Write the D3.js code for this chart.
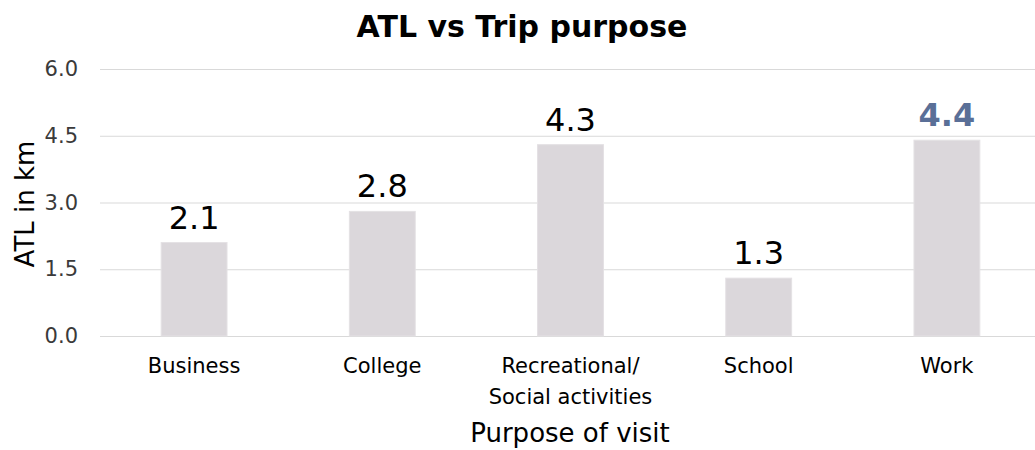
<!DOCTYPE html>
<html>
<head>
<meta charset="utf-8">
<script src="https://cdn.jsdelivr.net/npm/d3@7"></script>
<style>
  html, body { margin: 0; padding: 0; background: #fff; }
  svg text { font-family: "Century Gothic", "DejaVu Sans", sans-serif; }
</style>
</head>
<body>
<svg id="chart" width="1035" height="450"></svg>
<script>
// Average trip length by purpose of visit
const categories = ["Business", "College", "Recreational/\nSocial activities", "School", "Work"];
const atlKm = [2.1, 2.8, 4.3, 1.3, 4.4];
const yTicks = [0, 1.5, 3.0, 4.5, 6.0];
const highlighted = "Work";

const svg = d3.select("#chart");
const W = 1035;
const plot = { left: 100, right: 1041, top: 69, bottom: 336 };

const x = d3.scaleBand().domain(categories).range([plot.left, plot.right]).padding(0);
const y = d3.scaleLinear().domain([0, 6]).range([plot.bottom, plot.top]);
const barW = x.bandwidth() * 0.35;

// title
svg.append("text")
  .attr("x", 522).attr("y", 37)
  .attr("text-anchor", "middle")
  .attr("font-size", 30).attr("font-weight", "bold").attr("fill", "#000")
  .text("ATL vs Trip purpose");

// gridlines and tick labels
const yAxis = d3.axisLeft(y).tickValues(yTicks).tickFormat(d3.format(".1f"))
  .tickSize(-(W - plot.left)).tickPadding(22);
const gy = svg.append("g").attr("transform", `translate(${plot.left},0)`).call(yAxis);
gy.select(".domain").remove();
gy.selectAll(".tick line").attr("stroke", "#d9d9d9").attr("stroke-width", 1);
gy.selectAll(".tick text").attr("font-size", 21).attr("fill", "#3a3a3a");

// bars
svg.append("g").selectAll("rect")
  .data(categories)
  .join("rect")
  .attr("x", (d) => x(d) + (x.bandwidth() - barW) / 2)
  .attr("y", (d, i) => y(atlKm[i]))
  .attr("width", barW)
  .attr("height", (d, i) => y(0) - y(atlKm[i]))
  .attr("fill", "#dbd7db")
  .attr("stroke", "#e4e1e4")
  .attr("stroke-width", 1);

// value labels
svg.append("g").selectAll("text")
  .data(categories)
  .join("text")
  .attr("x", (d) => x(d) + x.bandwidth() / 2)
  .attr("y", (d, i) => y(atlKm[i]) - 14)
  .attr("text-anchor", "middle")
  .attr("font-size", 32)
  .attr("font-weight", (d) => d === highlighted ? "bold" : "normal")
  .attr("fill", (d) => d === highlighted ? "#5a6f97" : "#000")
  .text((d, i) => d3.format(".1f")(atlKm[i]));

// category labels
const gx = svg.append("g").selectAll("text")
  .data(categories)
  .join("text")
  .attr("x", (d) => x(d) + x.bandwidth() / 2)
  .attr("y", 373)
  .attr("text-anchor", "middle")
  .attr("font-size", 21)
  .attr("fill", "#000");
gx.each(function (d) {
  const lines = d.split("\n");
  d3.select(this).selectAll("tspan")
    .data(lines)
    .join("tspan")
    .attr("x", x(d) + x.bandwidth() / 2)
    .attr("dy", (l, i) => i === 0 ? 0 : 31)
    .text((l) => l);
});

// axis titles
svg.append("text")
  .attr("x", 570).attr("y", 442)
  .attr("text-anchor", "middle")
  .attr("font-size", 26).attr("fill", "#000")
  .text("Purpose of visit");

svg.append("text")
  .attr("transform", `translate(34,204) rotate(-90)`)
  .attr("text-anchor", "middle")
  .attr("font-size", 26).attr("fill", "#000")
  .text("ATL in km");
</script>
</body>
</html>
